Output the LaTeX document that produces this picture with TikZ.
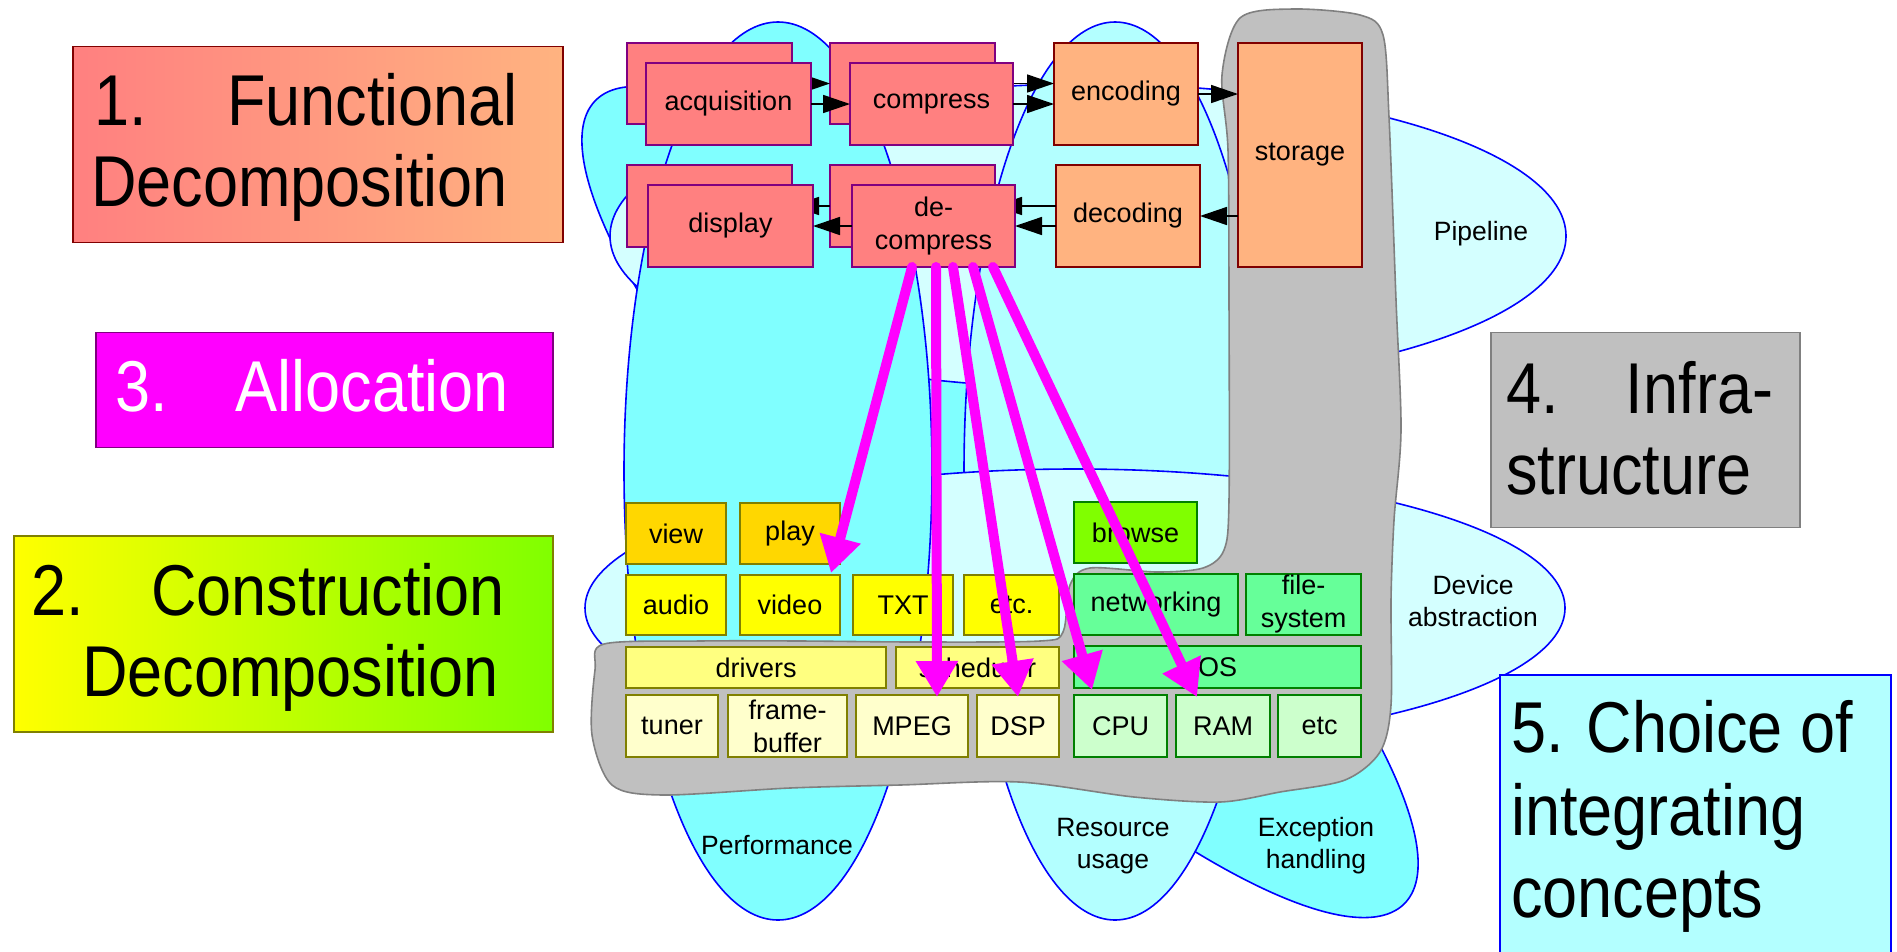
\documentclass[tikz,border=0pt]{standalone}
\usepackage{fontspec}
\setmainfont{Liberation Sans}
\newfontfamily\bigfam{Liberation Sans}[FakeStretch=0.875]
\usetikzlibrary{arrows.meta,shapes.geometric}
\definecolor{cSalmon}{RGB}{255,128,128}
\definecolor{cPurple}{RGB}{128,0,128}
\definecolor{cPeach}{RGB}{255,179,128}
\definecolor{cDarkRed}{RGB}{128,0,0}
\definecolor{cGold}{RGB}{255,215,0}
\definecolor{cYel}{RGB}{255,255,0}
\definecolor{cLtYel}{RGB}{255,255,128}
\definecolor{cPaleYel}{RGB}{255,255,204}
\definecolor{cOlive}{RGB}{128,128,0}
\definecolor{cLime}{RGB}{128,255,0}
\definecolor{cMint}{RGB}{102,255,153}
\definecolor{cPaleGreen}{RGB}{204,255,204}
\definecolor{cGreen}{RGB}{0,128,0}
\definecolor{cCyan}{RGB}{128,255,255}
\definecolor{cMidCyan}{RGB}{179,255,255}
\definecolor{cLtCyan}{RGB}{212,255,255}
\definecolor{cGray}{RGB}{192,192,192}
\definecolor{cDkGray}{RGB}{128,128,128}
\definecolor{cMag}{RGB}{255,0,255}
\definecolor{cBlue}{RGB}{0,0,255}
\definecolor{cSalmonR}{RGB}{255,179,128}
\definecolor{cYG}{RGB}{128,255,0}
\newcommand\bxfont{\fontsize{27}{33}\selectfont}
\newcommand\lblfont{\fontsize{26.5}{32}\selectfont}
\newcommand\bigtxt{\bigfam\fontsize{72}{82}\selectfont}
\begin{document}
\begin{tikzpicture}[x=1pt,y=-1pt,
  every node/.style={inner sep=0pt,outer sep=0pt},
  blob/.style={draw=cBlue,line width=1.6pt},
  sz/.style 2 args={minimum width=#1pt,minimum height=#2pt},
  fbox/.style={draw=cPurple,fill=cSalmon,line width=1.7pt,font=\bxfont,align=center},
  cbox/.style={draw=cDarkRed,fill=cPeach,line width=1.7pt,font=\bxfont,align=center},
  ybox/.style={draw=cOlive,line width=1.7pt,font=\bxfont,align=center},
  gbox/.style={draw=cGreen,line width=1.7pt,font=\bxfont,align=center},
  flow/.style={draw=black,line width=1.6pt,-{Triangle[length=27pt,width=18pt]}},
  alloc/.style={draw=cMag,line width=10pt,line cap=round,-{Triangle[length=36pt,width=40pt]}},
  lbl/.style={font=\lblfont,align=center},
  big/.style={font=\bigtxt},
  infra/.style={draw=cDkGray,fill=cGray,line width=1.6pt}]
\useasboundingbox (0,0) rectangle (1897,951);

% ---- integrating concepts (background blobs)
\begin{scope}[shift={(1000,502)},rotate=-44.8]
  \path[blob,fill=cCyan] (0,0) ellipse [x radius=570pt,y radius=150pt];
\end{scope}
\path[blob,fill=cLtCyan] (1088,236) ellipse [x radius=478pt,y radius=152pt];
\path[blob,fill=cMidCyan] (1115,471) ellipse [x radius=151pt,y radius=449pt];
\path[blob,fill=cLtCyan] (1075,608) ellipse [x radius=490pt,y radius=139pt];
\path[blob,fill=cCyan] (778,471) ellipse [x radius=154pt,y radius=449pt];

\node[lbl] (lpipe) at (1481,234) {Pipeline};
\node[lbl] (ldev) at (1473,601) {Device\\abstraction};
\node[lbl] (lperf) at (777,845) {Performance};
\node[lbl] (lres) at (1113,846) {Resource\\usage};
\node[lbl] (lexc) at (1316,846) {Exception\\handling};

% ---- infrastructure
\draw[infra] plot[smooth cycle,tension=0.5] coordinates {
 (1222,75) (1240,18) (1293,9) (1360,15) (1383,35) (1389,117) (1396,300)
 (1401,430) (1394,520) (1391,600) (1391,705) (1380,752) (1345,780)
 (1280,792) (1220,802) (1134,797) (1019,782) (900,785) (790,788)
 (663,795) (612,785) (592,735) (595,670) (604,644) (700,641) (800,641)
 (917,642) (1040,641) (1063,632) (1070,585) (1090,568) (1157,572)
 (1203,568) (1224,550) (1229,500) (1229,300) (1228,150)};

% ---- functional decomposition: back layer
\node[fbox,sz={165}{81}] (acqB) at (709.5,83.5) {};
\node[fbox,sz={165}{81}] (cmpB) at (912.5,83.5) {};
\node[fbox,sz={165}{82}] (dspB) at (709.5,206) {};
\node[fbox,sz={165}{82}] (decB) at (912.5,206) {};
\node[cbox,sz={144}{102}] (enc) at (1126,94) {encoding};
\node[cbox,sz={144}{102}] (dcd) at (1128,216) {decoding};
\node[cbox,sz={124}{224}] (sto) at (1300,155) {storage};
\draw[flow] (acqB.east) -- (cmpB.west);
\draw[flow] (cmpB.east) -- (cmpB.east -| enc.west);
\draw[flow] (decB.east -| dcd.west) -- (decB.east);
\draw[flow] (decB.west) -- (dspB.east);
% front layer
\node[fbox,sz={165}{82}] (acqF) at (728.5,104) {acquisition};
\node[fbox,sz={163}{82}] (cmpF) at (931.5,104) {compress};
\node[fbox,sz={165}{82}] (dspF) at (730.5,226) {display};
\node[fbox,sz={163}{82}] (decF) at (933.5,226) {de-\\compress};
\draw[flow] (acqF.east) -- (cmpF.west);
\draw[flow] (cmpF.east) -- (cmpF.east -| enc.west);
\draw[flow] (enc.east) -- (enc.east -| sto.west);
\draw[flow] (sto.west |- dcd.east) -- (dcd.east);
\draw[flow] (decF.east -| dcd.west) -- (decF.east);
\draw[flow] (decF.west) -- (dspF.east);

% ---- construction decomposition
\node[ybox,fill=cGold,sz={100}{61}] (view) at (676,533.5) {view};
\node[ybox,fill=cGold,sz={100}{61}] (play) at (790,533.5) {play};
\node[gbox,fill=cLime,sz={123}{61}] (browse) at (1135.5,532.5) {browse};
\node[ybox,fill=cYel,sz={100}{60}] (audio) at (676,605) {audio};
\node[ybox,fill=cYel,sz={100}{60}] (video) at (790,605) {video};
\node[ybox,fill=cYel,sz={100}{60}] (txt) at (903,605) {TXT};
\node[ybox,fill=cYel,sz={95}{60}] (etcA) at (1011.5,605) {etc.};
\node[gbox,fill=cMint,sz={164}{61}] (netw) at (1156,604.5) {networking};
\node[gbox,fill=cMint,sz={115}{61}] (fsys) at (1303.5,604.5) {file-\\system};
\node[ybox,fill=cLtYel,sz={260}{41}] (drv) at (756,667.5) {drivers};
\node[ybox,fill=cLtYel,sz={163}{41}] (sched) at (977.5,667.5) {scheduler};
\node[gbox,fill=cMint,sz={287}{42}] (os) at (1217.5,667) {OS};
\node[ybox,fill=cPaleYel,sz={92}{62}] (tuner) at (672,726) {tuner};
\node[ybox,fill=cPaleYel,sz={119}{62}] (fbuf) at (787.5,726) {frame-\\buffer};
\node[ybox,fill=cPaleYel,sz={112}{62}] (mpeg) at (912,726) {MPEG};
\node[ybox,fill=cPaleYel,sz={82}{62}] (dsp) at (1018,726) {DSP};
\node[gbox,fill=cPaleGreen,sz={93}{62}] (cpu) at (1120.5,726) {CPU};
\node[gbox,fill=cPaleGreen,sz={94}{62}] (ram) at (1223,726) {RAM};
\node[gbox,fill=cPaleGreen,sz={83}{62}] (etcB) at (1319.5,726) {etc};

% ---- allocation
\draw[alloc] ([xshift=60pt]decF.south west) -- ([xshift=91pt,yshift=2pt]video.north west);
\draw[alloc] ([xshift=84pt]decF.south west) -- ([xshift=81pt,yshift=-2pt]mpeg.north west);
\draw[alloc] ([xshift=101pt]decF.south west) -- ([xshift=41pt,yshift=-2pt]dsp.north west);
\draw[alloc] ([xshift=121pt]decF.south west) -- ([xshift=18pt,yshift=5pt]cpu.north west);
\draw[alloc] ([xshift=141pt]decF.south west) -- ([xshift=21pt,yshift=-2pt]ram.north west);

% ---- numbered labels
\node[draw=cDarkRed,line width=1.5pt,left color=cSalmon,right color=cSalmonR,sz={490}{196}] (k1) at (318,144.5) {};
\node[big,anchor=base west] (k1a) at (94,125) {1.};
\node[big,anchor=base east] (k1b) at (518,125) {Functional};
\node[big,anchor=base west] (k1c) at (91,206) {Decomposition};

\node[draw=cPurple,line width=1.5pt,fill=cMag,sz={457}{115}] (k3) at (324.5,390) {};
\node[big,anchor=base west,text=white] (k3a) at (115,411) {3.};
\node[big,anchor=base east,text=white] (k3b) at (509,411) {Allocation};

\node[draw=cOlive,line width=1.5pt,left color=cYel,right color=cYG,sz={539}{196}] (k2) at (283.5,634) {};
\node[big,anchor=base west] (k2a) at (31,615) {2.};
\node[big,anchor=base east] (k2b) at (505,615) {Construction};
\node[big,anchor=base east] (k2c) at (499,696) {Decomposition};

\node[draw=cDkGray,line width=1.5pt,fill=cGray,sz={309}{195}] (k4) at (1645.5,430) {};
\node[big,anchor=base west] (k4a) at (1506,413) {4.};
\node[big,anchor=base east] (k4b) at (1773,413) {Infra-};
\node[big,anchor=base west] (k4c) at (1506,494) {structure};

\node[draw=cBlue,line width=1.5pt,fill=cMidCyan,sz={391}{290}] (k5) at (1695.5,820) {};
\node[big,anchor=base west] (k5a) at (1511,752) {5. Choice of};
\node[big,anchor=base west] (k5b) at (1511,835) {integrating};
\node[big,anchor=base west] (k5c) at (1511,917) {concepts};
\end{tikzpicture}
\end{document}
